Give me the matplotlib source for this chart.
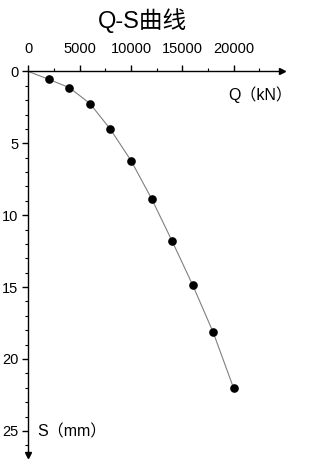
import matplotlib.pyplot as plt

# Q-S curve data
load_kn = [0, 2000, 4000, 6000, 8000, 10000, 12000, 14000, 16000, 18000, 20000]
settle_mm = [0, 0.55, 1.13, 2.23, 4.03, 6.2, 8.85, 11.8, 14.85, 18.15, 22.05]

x_ticks = [0, 5000, 10000, 15000, 20000]
y_ticks = [0, 5, 10, 15, 20, 25]

num_font = ['Liberation Sans Narrow', 'Liberation Sans', 'DejaVu Sans']
cjk_font = ['Liberation Sans', 'Noto Sans CJK SC', 'DejaVu Sans']

fig = plt.figure(figsize=(3.24, 4.67), dpi=100)
ax = fig.add_axes([0.0874, 0.025, 0.783, 0.822])

ax.plot(load_kn, settle_mm, color='#808080', linewidth=0.8, zorder=2)
ax.plot(load_kn[1:], settle_mm[1:], 'o', color='black', markersize=5.2, zorder=3)

ax.set_xlim(0, 24700)
ax.set_ylim(26.7, 0)

for side in ['right', 'bottom']:
    ax.spines[side].set_visible(False)
for side in ['top', 'left']:
    ax.spines[side].set_linewidth(1.0)

ax.xaxis.set_ticks_position('top')
ax.set_xticks(x_ticks)
ax.set_xticks([2500, 7500, 12500, 17500, 22500], minor=True)
ax.set_yticks(y_ticks)
ax.set_yticks([v for v in range(1, 27) if v % 5 != 0], minor=True)
ax.tick_params(axis='both', which='major', direction='out', length=4, width=1, pad=3)
ax.tick_params(axis='both', which='minor', direction='out', length=2.5, width=0.8)
ax.tick_params(axis='x', pad=7)

for lab in ax.get_xticklabels() + ax.get_yticklabels():
    lab.set_family(num_font)
    lab.set_fontsize(10.5)

# arrow heads at the ends of the axes
ax.plot(1, 1, '>', color='black', markersize=5, transform=ax.transAxes, clip_on=False)
ax.plot(0, 0, 'v', color='black', markersize=5, transform=ax.transAxes, clip_on=False)

ax.text(1.04, 0.94, 'Q（kN）', transform=ax.transAxes, ha='right', va='center',
        fontsize=11.5, family=cjk_font)
ax.text(0.035, 0.062, 'S（mm）', transform=ax.transAxes, ha='left', va='center',
        fontsize=11.5, family=cjk_font)

fig.text(0.44, 0.955, 'Q-S曲线', ha='center', va='center', fontsize=17, family=cjk_font)

fig.savefig('out.png', dpi=100)
